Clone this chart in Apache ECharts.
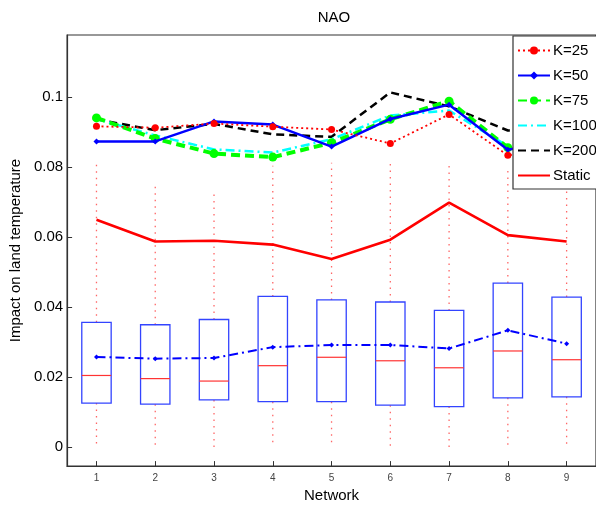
<!DOCTYPE html>
<html>
<head>
<meta charset="utf-8">
<script src="https://cdn.jsdelivr.net/npm/echarts@6/dist/echarts.min.js"></script>
<style>html,body{margin:0;padding:0;background:#fff}#c{width:596px;height:508px}</style>
</head>
<body>
<div id="c"></div>
<script>
const networks = [1, 2, 3, 4, 5, 6, 7, 8, 9];
const k25 = [0.0917, 0.0913, 0.0925, 0.0916, 0.0908, 0.0868, 0.0951, 0.0834, 0.0860];
const k50 = [0.0874, 0.0874, 0.0931, 0.0922, 0.0859, 0.0938, 0.0979, 0.0850, 0.0880];
const k75 = [0.0941, 0.0882, 0.0839, 0.0829, 0.0870, 0.0937, 0.0989, 0.0856, 0.0870];
const k100 = [0.0938, 0.0891, 0.0851, 0.0842, 0.0880, 0.0948, 0.0962, 0.0860, 0.0870];
const k200 = [0.0937, 0.0906, 0.0924, 0.0894, 0.0887, 0.1014, 0.0974, 0.0905, 0.0900];
const staticVals = [0.0650, 0.0588, 0.0590, 0.0579, 0.0538, 0.0593, 0.0699, 0.0606, 0.0588];
const boxQ1 = [0.0126, 0.0123, 0.0135, 0.0130, 0.0130, 0.0120, 0.0116, 0.0141, 0.0144];
const boxMedian = [0.0205, 0.0196, 0.0189, 0.0233, 0.0257, 0.0247, 0.0227, 0.0275, 0.0250];
const boxQ3 = [0.0357, 0.0350, 0.0365, 0.0431, 0.0421, 0.0415, 0.0391, 0.0469, 0.0429];
const whiskerLow = [0.0, 0.0, 0.0, 0.0, 0.0, 0.0, 0.0, 0.0, 0.0];
const whiskerHigh = [0.0808, 0.0756, 0.0732, 0.0804, 0.0813, 0.0814, 0.0813, 0.0800, 0.0800];
const means = [0.0258, 0.0253, 0.0255, 0.0286, 0.0292, 0.0292, 0.0282, 0.0334, 0.0296];
const yTicks = [0, 0.02, 0.04, 0.06, 0.08, 0.1];

const pair = arr => networks.map((n, i) => [n, arr[i]]);
const boxData = networks.map((n, i) => [n, boxQ1[i], boxMedian[i], boxQ3[i], whiskerLow[i], whiskerHigh[i]]);

const FONT = '"Liberation Sans", Arial, sans-serif';
const hideSym = { opacity: 0 };
const chart = echarts.init(document.getElementById('c'));
chart.setOption({
  animation: false,
  backgroundColor: '#fff',
  textStyle: { fontFamily: FONT },
  title: {
    text: 'NAO', left: 329, top: 5, textAlign: 'center',
    textStyle: { fontSize: 15, fontWeight: 'normal', color: '#000', fontFamily: FONT }
  },
  grid: { left: 66, top: 35, width: 535.5, height: 433, show: true, borderColor: '#333', borderWidth: 1.2, backgroundColor: 'transparent' },
  legend: {
    orient: 'vertical', left: 513, top: 36,
    data: [
      { name: 'K=25' },
      { name: 'K=50' },
      { name: 'K=75' },
      { name: 'K=100', itemStyle: hideSym },
      { name: 'K=200', itemStyle: hideSym },
      { name: 'Static', itemStyle: hideSym }
    ],
    itemWidth: 32, itemHeight: 10, itemGap: 10,
    padding: [7, 40, 6, 4],
    backgroundColor: '#fff', borderColor: '#333', borderWidth: 1.2, borderRadius: 0,
    textStyle: { fontSize: 15, color: '#000', fontFamily: FONT, padding: [0, 0, 0, -2] },
    z: 10
  },
  xAxis: {
    type: 'value', min: 0.5, max: 9.5,
    name: 'Network', nameLocation: 'middle', nameGap: 21,
    nameTextStyle: { fontSize: 15, color: '#000', fontFamily: FONT },
    axisLine: { show: true, onZero: false, lineStyle: { color: '#333', width: 1.2 } },
    axisTick: { show: true, inside: true, length: 5, customValues: networks, lineStyle: { color: '#333' } },
    axisLabel: { customValues: networks, fontSize: 10, color: '#444', margin: 7, fontFamily: FONT },
    splitLine: { show: false }
  },
  yAxis: {
    type: 'value', min: -0.0054, max: 0.1178,
    name: 'Impact on land temperature', nameLocation: 'middle', nameGap: 33,
    nameTextStyle: { fontSize: 15, color: '#000', fontFamily: FONT },
    axisLine: { show: true, onZero: false, lineStyle: { color: '#333', width: 1.2 } },
    axisTick: { show: true, inside: true, length: 5, customValues: yTicks, lineStyle: { color: '#333' } },
    axisLabel: { customValues: yTicks, fontSize: 15, color: '#000', margin: 4, fontFamily: FONT, formatter: v => String(v) },
    splitLine: { show: false }
  },
  series: [
    {
      name: 'box', type: 'custom', data: boxData, z: 1,
      renderItem: function (params, api) {
        const x = api.value(0);
        const q1 = api.coord([x, api.value(1)]);
        const med = api.coord([x, api.value(2)]);
        const q3 = api.coord([x, api.value(3)]);
        const lo = api.coord([x, api.value(4)]);
        const hi = api.coord([x, api.value(5)]);
        const hw = api.size([0.5, 0])[0] / 2;
        const dot = { stroke: 'rgba(255,0,0,0.6)', lineWidth: 1.3, lineDash: [1.5, 5], fill: null };
        return {
          type: 'group',
          children: [
            { type: 'line', shape: { x1: q1[0], y1: q1[1], x2: lo[0], y2: lo[1] }, style: dot },
            { type: 'line', shape: { x1: q3[0], y1: q3[1], x2: hi[0], y2: hi[1] }, style: dot },
            { type: 'rect', shape: { x: q3[0] - hw, y: q3[1], width: hw * 2, height: q1[1] - q3[1] },
              style: { fill: null, stroke: '#3344ff', lineWidth: 1.3 } },
            { type: 'line', shape: { x1: med[0] - hw, y1: med[1], x2: med[0] + hw, y2: med[1] },
              style: { stroke: '#ff3333', lineWidth: 1.2 } }
          ]
        };
      }
    },
    {
      name: 'mean', type: 'line', data: pair(means), z: 2,
      symbol: 'diamond', symbolSize: 5, itemStyle: { color: '#0000ff' },
      lineStyle: { color: '#0000ff', width: 2, type: [9, 4, 2, 4] }
    },
    {
      name: 'Static', type: 'line', data: pair(staticVals), z: 3,
      symbol: 'none', itemStyle: { color: '#ff0000' },
      lineStyle: { color: '#ff0000', width: 2.6, type: 'solid' }
    },
    {
      name: 'K=200', type: 'line', data: pair(k200), z: 4,
      symbol: 'none', itemStyle: { color: '#000' },
      lineStyle: { color: '#000', width: 2.5, type: [8, 5] }
    },
    {
      name: 'K=100', type: 'line', data: pair(k100), z: 5,
      symbol: 'none', itemStyle: { color: '#00ffff' },
      lineStyle: { color: '#00ffff', width: 2.5, type: [9, 4, 2, 4] }
    },
    {
      name: 'K=75', type: 'line', data: pair(k75), z: 6,
      symbol: 'circle', symbolSize: 9, itemStyle: { color: '#00ff00' },
      lineStyle: { color: '#00ff00', width: 4, type: [9, 5] }
    },
    {
      name: 'K=50', type: 'line', data: pair(k50), z: 7,
      symbol: 'diamond', symbolSize: 6, itemStyle: { color: '#0000ff' },
      lineStyle: { color: '#0000ff', width: 2.5, type: 'solid' }
    },
    {
      name: 'K=25', type: 'line', data: pair(k25), z: 8,
      symbol: 'circle', symbolSize: 7, itemStyle: { color: '#ff0000' },
      lineStyle: { color: '#ff0000', width: 1.8, type: [2, 3] }
    }
  ]
});
</script>
</body>
</html>
